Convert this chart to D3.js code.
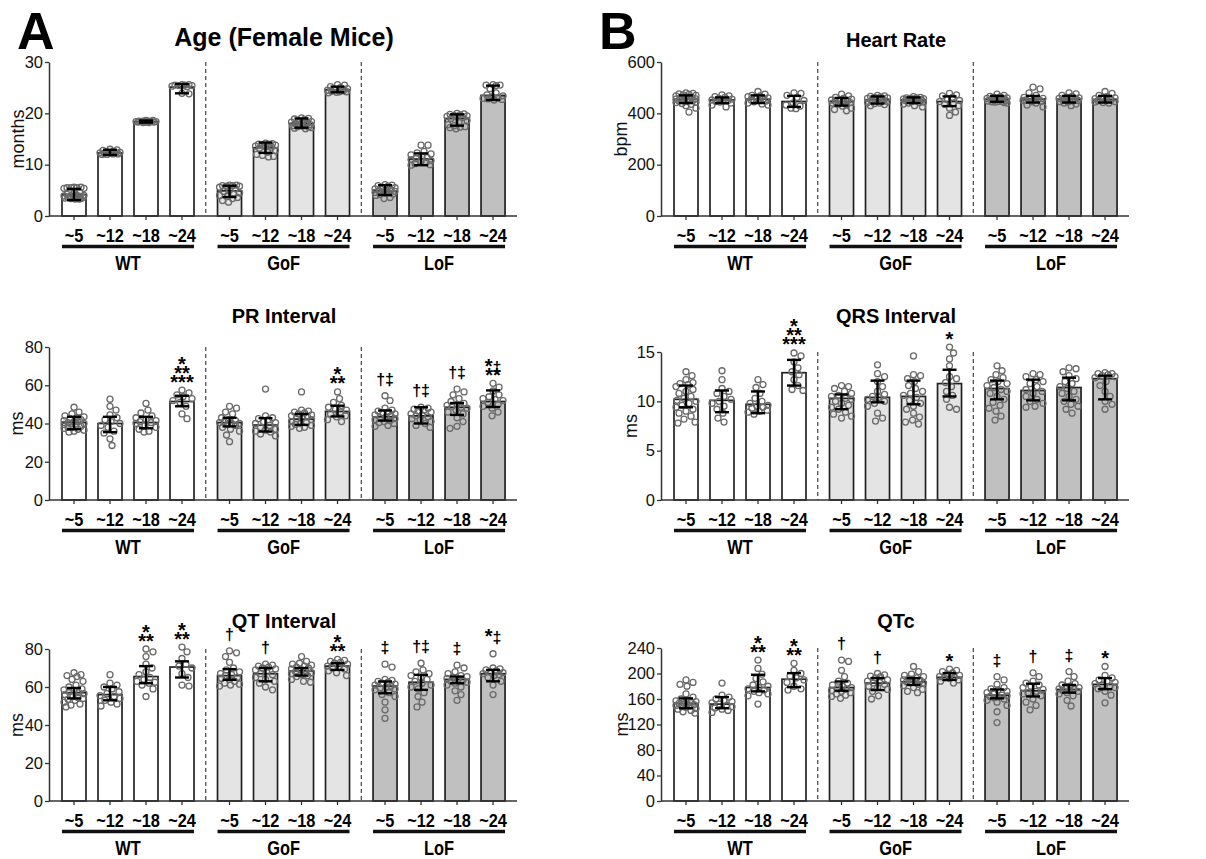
<!DOCTYPE html>
<html>
<head>
<meta charset="utf-8">
<script src="https://cdn.jsdelivr.net/npm/d3@7"></script>
<style>
  body { margin: 0; background: #fff; }
  svg { font-family: "Liberation Sans", Arial, Helvetica, sans-serif; }
</style>
</head>
<body>
<div id="fig"></div>
<script>
// bar order in every array: WT ~5,~12,~18,~24, GoF ~5..~24, LoF ~5..~24
const groups = ["WT", "GoF", "LoF"];
const ageLabels = ["~5", "~12", "~18", "~24"];

// Age (months)
const ageMean = [4.2, 12.3, 18.4, 25.1, 4.9, 13.3, 18.0, 24.6, 4.9, 11.1, 19.0, 23.5];
const ageLo = [3.1, 11.9, 18.2, 23.9, 3.7, 12.3, 17.2, 24.1, 4.1, 9.9, 17.6, 22.6];
const ageHi = [5.3, 12.9, 18.6, 25.7, 5.9, 14.3, 19.0, 25.2, 6.0, 12.2, 19.8, 25.4];
const agePts = [
  [5.6,5.6,5.5,5.5,5.5,5.4,5.4,4.5,4.4,4.2,4.0,4.0,3.9,3.8,3.7,3.6,3.5,3.5,3.4,3.4,3.3,3.3,3.6,3.9],
  [13.0,12.9,12.8,12.6,12.5,12.4,12.3,12.2,12.2,12.1,12.0,12.0,12.1,12.3],
  [18.6,18.5,18.5,18.4,18.4,18.4,18.3,18.3,18.3,18.2,18.2,18.5,18.4,18.3,18.6],
  [25.6,25.6,25.5,25.5,25.4,25.4,25.3,25.2,23.9,23.8],
  [6.0,6.0,5.9,5.9,5.8,5.8,5.6,5.3,5.0,4.8,4.5,4.3,4.0,3.8,3.6,3.4,3.0,2.7],
  [14.2,14.1,14.0,14.0,13.9,13.8,13.6,13.5,13.4,13.2,12.8,12.4,12.0,11.8,11.6,11.5],
  [19.1,19.0,18.9,18.8,18.6,18.4,18.2,18.1,18.0,17.9,17.8,17.7,17.6,17.5,17.4,17.3,17.2,17.1,17.0,18.3],
  [25.6,25.5,25.2,25.0,24.8,24.6,24.5,24.4,24.3,24.2,24.2,24.1,24.0],
  [6.1,6.0,5.9,5.8,5.6,5.5,5.3,5.1,5.0,4.9,4.8,4.7,4.6,4.5,4.4,4.3,4.2,4.0,3.6,3.4],
  [13.8,13.8,12.6,12.3,12.1,11.9,11.6,11.4,11.2,11.0,10.8,10.6,10.4,10.2,10.0,9.9],
  [20.0,19.9,19.8,19.7,19.6,19.5,19.4,19.3,19.2,19.0,18.6,18.2,17.8,17.6,17.4,17.3,17.2,17.0],
  [25.6,25.5,25.5,25.4,24.8,24.0,23.6,23.4,23.2,23.0,22.9,22.8,22.7,22.6]
];

// Heart rate (bpm)
const hrMean = [455, 452, 455, 446, 446, 453, 452, 446, 455, 456, 455, 454];
const hrLo = [440, 440, 440, 425, 430, 438, 440, 428, 445, 442, 442, 442];
const hrHi = [470, 462, 470, 468, 460, 466, 462, 466, 468, 468, 468, 468];
const hrPts = [
  [480,478,476,474,472,470,468,465,462,460,458,456,455,452,450,448,446,444,442,438,435,430,420,405],
  [472,468,465,462,458,455,452,450,448,446,444,440,432,425],
  [485,475,470,468,465,460,458,455,452,450,448,445,440,436,432],
  [480,478,470,462,450,440,432,428,420,418],
  [475,468,462,458,455,452,450,448,446,444,442,440,436,432,428,420,415,410],
  [470,468,466,464,462,460,458,455,452,450,446,442,440,438,434,430],
  [465,462,460,460,458,457,456,455,454,453,452,450,448,446,444,442,440,436,430,425],
  [478,472,468,462,455,450,446,440,436,430,420,405,392],
  [475,470,466,464,462,460,458,456,455,454,453,452,450,448,447,446,445,444,442,440],
  [502,495,480,470,462,458,456,455,454,452,450,448,445,440,432,425],
  [480,476,470,466,462,460,458,456,455,454,452,450,448,446,444,440,436,430],
  [485,478,470,465,460,457,455,453,451,449,446,444,442,440]
];

// PR interval (ms)
const prMean = [40.5, 40.0, 40.5, 51.5, 40.5, 39.2, 42.3, 46.3, 43.5, 44.0, 48.5, 51.5];
const prLo = [37.0, 35.5, 37.5, 49.0, 38.5, 35.8, 39.3, 43.7, 41.5, 40.0, 44.5, 48.6];
const prHi = [43.5, 43.5, 43.5, 54.5, 43.0, 42.8, 45.0, 49.3, 46.8, 48.5, 50.7, 57.3];
const prPts = [
  [48.5,46,45,44,43.5,43,42.5,42,41.5,41,41,40.5,40,40,39.5,39,38.5,38,38,37.5,37,36.5,36,35.5],
  [52.7,49,47,44.5,43,42,41,40,39,38,36,35,32,28.5],
  [50.5,47,45.5,44,43,42,41.5,41,40.5,40,39,38,37,36,35.5],
  [57.5,56,55,54,53,52,51,49,45,42.5],
  [49,48,46,45,43,42,41.5,41,40.5,40,40,39.5,39,38,37,36,34,30.5],
  [58,44,43,42.5,42,41,40.5,40,39,38,37,36.5,36,35.5,34.5,33.5],
  [56.5,47,46.5,46,45.5,45,44.5,44,43.5,43,42.5,42,41,40.5,40,39.5,39,38.5,38,37.5],
  [56.5,53,51,49.5,48.5,47.5,47,46,45,44,43.5,42,41],
  [54.5,52,48,47,46.5,46,45.5,45,44.5,44,43.5,43,42.5,42,41.5,41,40.5,40,39,38.5],
  [48.5,48,47.5,47,46.5,46,45,44.5,44,43.5,42.5,42,41,40,39,38],
  [58,56.5,55,53,51.5,50.5,50,49.5,49,48.5,48,47,46,45,43,41,38.5,37.5],
  [61,59,57,55,54,53,52.5,52,51,50,49,48,46,44]
];
const prMarks = [[], [], [], ["*", "**", "***"], [], [], [], ["*", "**"], ["†‡"], ["†‡"], ["†‡"], ["*‡", "**"]];

// QRS interval (ms)
const qrsMean = [10.2, 10.1, 9.7, 12.9, 10.3, 10.4, 10.5, 11.8, 11.3, 11.1, 11.4, 12.3];
const qrsLo = [9.4, 8.9, 8.8, 11.6, 9.2, 9.9, 9.7, 10.5, 10.2, 10.1, 10.1, 10.2];
const qrsHi = [11.6, 11.1, 11.0, 14.2, 10.7, 12.1, 12.1, 13.2, 12.1, 12.2, 12.4, 12.6];
const qrsPts = [
  [13,12.6,12.2,11.9,11.8,11.7,11.5,11.2,11,10.8,10.5,10.3,10.1,10,9.8,9.6,9.4,9.2,9,8.8,8.5,8.2,7.9,7.8],
  [13.1,12.2,11.3,11,10.8,10.5,10.2,10,9.8,9.5,9.2,8.8,8.3,7.9],
  [12.2,11.7,11.4,10.8,10.3,10,9.8,9.6,9.5,9.4,9.3,9.1,9,8.9,8.7],
  [14.9,14.6,14,13.4,13,12.7,12.2,11.6,11.2,11.1],
  [11.6,11.5,11.3,11,10.8,10.6,10.5,10.3,10.2,10,9.8,9.6,9.4,9.2,8.9,8.7,8.5,8.3],
  [13.7,12.8,12.5,12,11.5,11,10.7,10.5,10.4,10.2,10,9.8,9.5,8.8,8.3,8],
  [14.6,12.7,12.6,12.3,12,11.6,11.3,11,10.8,10.6,10.4,10.1,9.8,9.5,9.2,8.8,8.4,8.1,7.9,7.7],
  [15.5,14.9,14.3,13.6,12.5,12.3,11.9,11.5,11,10.6,10.2,9.4,9.2],
  [13.6,13.1,12.7,12.4,12.2,12,11.8,11.6,11.4,11.2,11,10.8,10.5,10.2,9.9,9.6,9.3,9,8.5,8.1],
  [12.8,12.7,12.5,12.2,12,11.8,11.5,11.2,11,10.8,10.5,10.2,10,9.8,9.5,9.4],
  [13.4,13.3,13,12.6,12.3,12,11.8,11.5,11.3,11,10.8,10.5,10.2,10,9.7,9.5,9.2,8.8],
  [12.9,12.8,12.8,12.7,12.6,12.5,12.4,12,11.6,11,10.5,10,9.7,9.2]
];
const qrsMarks = [[], [], [], ["*", "**", "***"], [], [], [], ["*"], [], [], [], []];

// QT interval (ms)
const qtMean = [57, 56, 65.5, 70.5, 66, 67, 68.5, 71, 60.5, 62.5, 64, 67];
const qtLo = [54, 53, 62, 65, 63.8, 63, 66, 69, 56.7, 58.5, 62, 63];
const qtHi = [59.5, 60, 71, 73.5, 69.4, 70, 70, 72.5, 62.9, 66.4, 65.5, 69];
const qtPts = [
  [67.5,66.5,66,65.5,64,63,61,60,59,58.5,58,57.5,57,56.5,56,55,54.5,54,53.5,53,52,51,50.5,49.5],
  [66.5,62,61,60,59,57.5,56.5,55.5,55,54,53,52,51,50],
  [80,78.5,76,72,70,68,66.5,65,64,63,62.5,62,61,59,55],
  [81,78.5,75,72,71,70,67,65,61,60.5],
  [79,78,76,73,70,69,68,67,66.5,66,65,64.5,64,63,62,61.5,61,60.5],
  [72,71.5,71,70.5,70,69.5,69,68,67,66.5,65,64,63,62,60,58.5],
  [76,73.5,72.5,72,71.5,71,70.5,70,69.5,69,68.5,68,67.5,67,66.5,66,65.5,64,63,62.5],
  [74.5,74,73.5,73,72.5,72,71,70.5,70,69.5,68.5,67.5,66],
  [72,70.5,64,63.5,63,62.5,62,61.5,61,60.5,60,59.5,59,58.5,57,56,55,52,48,43.5],
  [72.5,69,68,67,66,65,64,63,62,61,60,59,57,55,52,49.5],
  [71.5,70,68,67,66,65.5,65,64.5,64,63.5,63,62.5,62,61,60,58,56,53],
  [77.5,70,69.5,69,68.5,68,67.5,67,66.5,66,65,63,61,56]
];
const qtMarks = [[], [], ["*", "**"], ["*", "**"], ["†"], ["†"], [], ["*", "**"], ["‡"], ["†‡"], ["‡"], ["*‡"]];

// QTc (ms)
const qtcMean = [153, 152, 178, 191, 178, 185, 187, 194, 166, 173, 175, 183];
const qtcLo = [145.5, 145.5, 172, 178.6, 173, 174, 182, 190, 161, 164, 170, 175.4];
const qtcHi = [161, 163, 198, 200.6, 187.5, 192.8, 192.8, 200.6, 175, 184, 182, 192.8];
const qtcPts = [
  [190,186,183,180,168,163,160,158,157,156,155,154,153,152,151,150,149,148,147,145,144,142,140,138],
  [185,166,163,160,158,156,154,152,150,148,146,144,142,139],
  [221,208,199,192,187,182,180,178,176,174,172,170,168,165,152],
  [216,205,200,196,193,190,186,180,176,174],
  [221,219,205,195,188,185,182,180,178,176,175,173,172,170,168,166,164,161],
  [200,198,196,195,193,190,188,186,185,183,180,178,175,172,165,160],
  [211,203,199,197,195,193,192,191,190,189,188,187,186,185,183,181,178,175,172,170],
  [207,205,203,201,199,197,195,194,193,192,190,188,185],
  [195,190,183,178,176,174,172,170,168,166,165,164,163,162,160,158,155,150,140,123],
  [201,195,188,185,182,180,178,175,172,170,168,165,160,155,150,143],
  [203,195,188,184,182,180,178,177,176,175,174,173,172,170,168,165,158,149],
  [211,197,193,190,188,186,184,182,180,178,176,172,166,154]
];
const qtcMarks = [[], [], ["*", "**"], ["*", "**"], ["†"], ["†"], [], ["*"], ["‡"], ["†"], ["‡"], ["*"]];

const barFill = ["#ffffff", "#e4e4e4", "#c0c0c0"];

// panel layout
const panels = [
  { title: "Age (Female Mice)", titleSize: 25, unit: "months", ticks: [0, 10, 20, 30],
    mean: ageMean, lo: ageLo, hi: ageHi, pts: agePts, marks: null,
    x0: 49, top: 62, bottom: 216, titleY: 46, labelX: 18 },
  { title: "Heart Rate", titleSize: 20, unit: "bpm", ticks: [0, 200, 400, 600],
    mean: hrMean, lo: hrLo, hi: hrHi, pts: hrPts, marks: null,
    x0: 661, top: 62, bottom: 216, titleY: 47, labelX: 621 },
  { title: "PR Interval", titleSize: 20, unit: "ms", ticks: [0, 20, 40, 60, 80],
    mean: prMean, lo: prLo, hi: prHi, pts: prPts, marks: prMarks,
    x0: 49, top: 347, bottom: 500, titleY: 323, labelX: 17 },
  { title: "QRS Interval", titleSize: 20, unit: "ms", ticks: [0, 5, 10, 15],
    mean: qrsMean, lo: qrsLo, hi: qrsHi, pts: qrsPts, marks: qrsMarks,
    x0: 661, top: 352, bottom: 500, titleY: 323, labelX: 631 },
  { title: "QT Interval", titleSize: 20, unit: "ms", ticks: [0, 20, 40, 60, 80],
    mean: qtMean, lo: qtLo, hi: qtHi, pts: qtPts, marks: qtMarks,
    x0: 49, top: 649, bottom: 801, titleY: 628, labelX: 17 },
  { title: "QTc", titleSize: 20, unit: "ms", ticks: [0, 40, 80, 120, 160, 200, 240],
    mean: qtcMean, lo: qtcLo, hi: qtcHi, pts: qtcPts, marks: qtcMarks,
    x0: 661, top: 648, bottom: 801, titleY: 628, labelX: 622 }
];

const W = 1206, H = 859;
const barW = 24, capW = 7, dotR = 3, axisLen = 468;

const svg = d3.select("#fig").append("svg")
    .attr("width", W)
    .attr("height", H);

svg.append("text").attr("x", 17).attr("y", 49)
    .attr("font-size", 52).attr("font-weight", "bold").text("A");
svg.append("text").attr("x", 599).attr("y", 49)
    .attr("font-size", 52).attr("font-weight", "bold").text("B");

// simple beeswarm: spread tied points sideways inside the bar
function swarm(vals, y, maxOff) {
    const items = vals.map(v => ({ v: v, py: y(v), dx: 0 }))
        .sort((a, b) => a.py - b.py);
    const cands = [0];
    for (let s = 1; s <= maxOff; s++) cands.push(s, -s);
    const placed = [];
    const minD = 2 * dotR + 0.8;
    items.forEach(it => {
        let chosen = null, best = null, bestD = -1;
        for (const c of cands) {
            let dmin = Infinity;
            placed.forEach(q => {
                const d = Math.hypot(q.dx - c, q.py - it.py);
                if (d < dmin) dmin = d;
            });
            if (dmin >= minD) { chosen = c; break; }
            if (dmin > bestD) { bestD = dmin; best = c; }
        }
        it.dx = chosen !== null ? chosen : best;
        placed.push(it);
    });
    return items;
}

function slotUnit(k) {
    return Math.floor(k / 4) * 4.32 + (k % 4);
}

panels.forEach(p => {
    const g = svg.append("g");
    const y = d3.scaleLinear().domain([0, d3.max(p.ticks)]).range([p.bottom, p.top]);
    const x = d3.scaleLinear().domain([0, 1]).range([p.x0 + 25, p.x0 + 61]);
    const bars = d3.range(12).map(k => ({
        k: k, grp: Math.floor(k / 4), cx: x(slotUnit(k)),
        mean: p.mean[k], lo: p.lo[k], hi: p.hi[k], pts: p.pts[k],
        marks: p.marks ? p.marks[k] : []
    }));

    // title
    g.append("text")
        .attr("x", p.x0 + axisLen / 2 + 1)
        .attr("y", p.titleY)
        .attr("text-anchor", "middle")
        .attr("font-size", p.titleSize)
        .attr("font-weight", "bold")
        .text(p.title);

    // dashed separators
    [1, 2].forEach(gi => {
        const xm = (x(slotUnit(gi * 4 - 1)) + x(slotUnit(gi * 4))) / 2;
        g.append("line")
            .attr("x1", xm).attr("x2", xm)
            .attr("y1", p.top).attr("y2", p.bottom)
            .attr("stroke", "#333").attr("stroke-width", 1.1)
            .attr("stroke-dasharray", "4,3");
    });

    // bars
    g.selectAll(".bar").data(bars).enter().append("rect")
        .attr("x", d => d.cx - barW / 2)
        .attr("width", barW)
        .attr("y", d => y(d.mean))
        .attr("height", d => p.bottom - y(d.mean))
        .attr("fill", d => barFill[d.grp])
        .attr("stroke", "#222")
        .attr("stroke-width", 1.7);

    // points
    bars.forEach(b => {
        const sw = swarm(b.pts, y, 10);
        g.selectAll(null).data(sw).enter().append("circle")
            .attr("cx", d => b.cx + d.dx)
            .attr("cy", d => d.py)
            .attr("r", dotR)
            .attr("fill", "none")
            .attr("stroke", "#6a6a6a")
            .attr("stroke-width", 1.3);
    });

    // error bars
    const eb = g.selectAll(".eb").data(bars).enter().append("g")
        .attr("stroke", "#000").attr("stroke-width", 2.4);
    eb.append("line")
        .attr("x1", d => d.cx).attr("x2", d => d.cx)
        .attr("y1", d => y(d.lo)).attr("y2", d => y(d.hi));
    eb.append("line")
        .attr("x1", d => d.cx - capW).attr("x2", d => d.cx + capW)
        .attr("y1", d => y(d.hi)).attr("y2", d => y(d.hi));
    eb.append("line")
        .attr("x1", d => d.cx - capW).attr("x2", d => d.cx + capW)
        .attr("y1", d => y(d.lo)).attr("y2", d => y(d.lo));

    // significance marks
    bars.forEach(b => {
        if (!b.marks || !b.marks.length) return;
        const ty = y(Math.max(d3.max(b.pts), b.hi));
        const n = b.marks.length;
        const lastHasDag = /[†‡]/.test(b.marks[n - 1]);
        const base = lastHasDag ? ty - 11 : ty - 1.5;
        b.marks.forEach((line, i) => {
            const t = g.append("text")
                .attr("x", b.cx)
                .attr("y", base - (n - 1 - i) * 9)
                .attr("text-anchor", "middle")
                .attr("fill", "#000")
                .attr("font-weight", "bold");
            line.split("").forEach(ch => {
                t.append("tspan")
                    .attr("font-size", ch === "*" ? 20 : 16)
                    .attr("fill", "#000")
                    .text(ch);
            });
        });
    });

    // y axis
    const ya = g.append("g")
        .attr("transform", `translate(${p.x0},0)`)
        .call(d3.axisLeft(y).tickValues(p.ticks).tickSize(4).tickSizeOuter(0).tickPadding(2));
    ya.select(".domain").attr("stroke", "#333").attr("stroke-width", 1.5);
    ya.selectAll(".tick line").attr("stroke", "#333").attr("stroke-width", 1.3);
    ya.selectAll(".tick text")
        .attr("font-size", 16.5)
        .attr("font-family", "\"Liberation Sans\", Arial, sans-serif")
        .attr("fill", "#111");

    // y label
    g.append("text")
        .attr("transform", `translate(${p.labelX},${(p.top + p.bottom) / 2}) rotate(-90)`)
        .attr("dy", "0.35em")
        .attr("text-anchor", "middle")
        .attr("font-size", 18)
        .attr("fill", "#111")
        .text(p.unit);

    // x axis line and ticks
    g.append("line")
        .attr("x1", p.x0).attr("x2", p.x0 + axisLen)
        .attr("y1", p.bottom).attr("y2", p.bottom)
        .attr("stroke", "#333").attr("stroke-width", 1.6);
    g.selectAll(".xt").data(bars).enter().append("line")
        .attr("x1", d => d.cx).attr("x2", d => d.cx)
        .attr("y1", p.bottom).attr("y2", p.bottom + 4)
        .attr("stroke", "#333").attr("stroke-width", 1.3);

    // age labels
    g.selectAll(".xl").data(bars).enter().append("text")
        .attr("transform", d => `translate(${d.cx},${p.bottom + 25.5}) scale(0.86,1)`)
        .attr("text-anchor", "middle")
        .attr("font-size", 19)
        .attr("font-weight", "bold")
        .text(d => ageLabels[d.k % 4]);

    // group underline and names
    groups.forEach((name, gi) => {
        const xa = x(slotUnit(gi * 4)) - barW / 2;
        const xb = x(slotUnit(gi * 4 + 3)) + barW / 2;
        g.append("line")
            .attr("x1", xa).attr("x2", xb)
            .attr("y1", p.bottom + 30.5).attr("y2", p.bottom + 30.5)
            .attr("stroke", "#111").attr("stroke-width", 3.5);
        g.append("text")
            .attr("transform", `translate(${(xa + xb) / 2},${p.bottom + 53.5}) scale(0.8,1)`)
            .attr("text-anchor", "middle")
            .attr("font-size", 20.5)
            .attr("font-weight", "bold")
            .text(name);
    });
});
</script>
</body>
</html>
